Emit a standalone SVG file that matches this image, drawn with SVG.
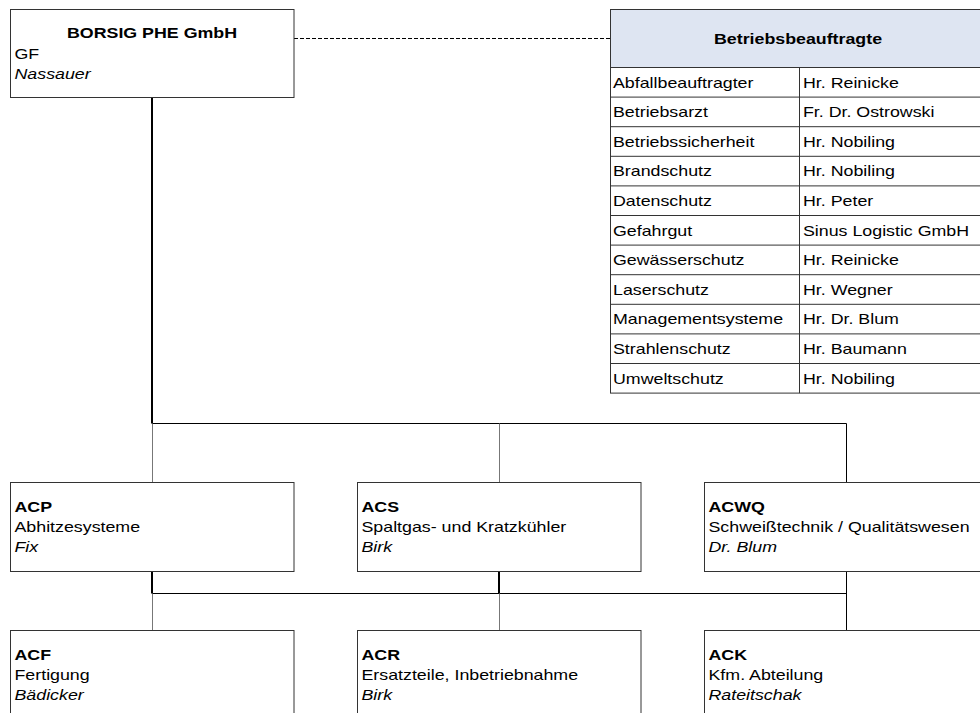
<svg xmlns="http://www.w3.org/2000/svg" width="980" height="713" viewBox="0 0 980 713">
<style>
text{font-family:"Liberation Sans",Arial,Helvetica,sans-serif;font-size:14.6px;fill:#000}
.b{font-weight:bold}
.i{font-style:italic}
.c{text-anchor:middle}
.box{fill:#fff;stroke:#333;stroke-width:1}
.hdr{fill:#dee5f2;stroke:#333;stroke-width:1}
.grid{fill:none;stroke:#333;stroke-width:1}
.ln{fill:none;stroke:#000;stroke-width:1}
.thk{fill:none;stroke:#000;stroke-width:2}
.gry{fill:none;stroke:#777;stroke-width:1}
.dash{fill:none;stroke:#000;stroke-width:1;stroke-dasharray:4 2}
</style>
<rect width="980" height="713" fill="#fff"/>
<g id="connectors">
<path class="dash" d="M294 38.5H610"/>
<path class="thk" d="M152 97.5V423.5"/>
<path class="ln" d="M152 423.5H846.5V482"/>
<path class="gry" d="M152.5 423.5V482M499.5 423.5V482"/>
<path class="thk" d="M152 571.5V593.5M499 571.5V593.5"/>
<path class="ln" d="M152 593.5H846.5M846.5 571.5V630"/>
<path class="gry" d="M152.5 593.5V630M499.5 593.5V630"/>
</g>
<g id="borsig">
<rect class="box" x="10.5" y="9.5" width="283.5" height="88"/>
<text class="b c" transform="matrix(1.22 0 0 1 152 38)">BORSIG PHE GmbH</text>
<text transform="matrix(1.22 0 0 1 14.5 59)">GF</text>
<text class="i" transform="matrix(1.22 0 0 1 14.5 79)">Nassauer</text>
</g>
<g id="betriebsbeauftragte">
<rect class="hdr" x="610.5" y="9.5" width="376" height="58"/>
<text class="b c" transform="matrix(1.22 0 0 1 798 44)">Betriebsbeauftragte</text>
<rect class="grid" x="610.5" y="67.5" width="376" height="325.6"/>
<path class="grid" d="M799.5 67.5V393.1M610.5 97.1H986.5M610.5 126.7H986.5M610.5 156.3H986.5M610.5 185.9H986.5M610.5 215.5H986.5M610.5 245.1H986.5M610.5 274.7H986.5M610.5 304.3H986.5M610.5 333.9H986.5M610.5 363.5H986.5"/>
<text transform="matrix(1.22 0 0 1 613 87.5)">Abfallbeauftragter</text>
<text transform="matrix(1.22 0 0 1 803 87.5)">Hr. Reinicke</text>
<text transform="matrix(1.22 0 0 1 613 117.1)">Betriebsarzt</text>
<text transform="matrix(1.22 0 0 1 803 117.1)">Fr. Dr. Ostrowski</text>
<text transform="matrix(1.22 0 0 1 613 146.7)">Betriebssicherheit</text>
<text transform="matrix(1.22 0 0 1 803 146.7)">Hr. Nobiling</text>
<text transform="matrix(1.22 0 0 1 613 176.3)">Brandschutz</text>
<text transform="matrix(1.22 0 0 1 803 176.3)">Hr. Nobiling</text>
<text transform="matrix(1.22 0 0 1 613 205.9)">Datenschutz</text>
<text transform="matrix(1.22 0 0 1 803 205.9)">Hr. Peter</text>
<text transform="matrix(1.22 0 0 1 613 235.5)">Gefahrgut</text>
<text transform="matrix(1.22 0 0 1 803 235.5)">Sinus Logistic GmbH</text>
<text transform="matrix(1.22 0 0 1 613 265.1)">Gewässerschutz</text>
<text transform="matrix(1.22 0 0 1 803 265.1)">Hr. Reinicke</text>
<text transform="matrix(1.22 0 0 1 613 294.7)">Laserschutz</text>
<text transform="matrix(1.22 0 0 1 803 294.7)">Hr. Wegner</text>
<text transform="matrix(1.22 0 0 1 613 324.3)">Managementsysteme</text>
<text transform="matrix(1.22 0 0 1 803 324.3)">Hr. Dr. Blum</text>
<text transform="matrix(1.22 0 0 1 613 353.9)">Strahlenschutz</text>
<text transform="matrix(1.22 0 0 1 803 353.9)">Hr. Baumann</text>
<text transform="matrix(1.22 0 0 1 613 383.5)">Umweltschutz</text>
<text transform="matrix(1.22 0 0 1 803 383.5)">Hr. Nobiling</text>
</g>
<g id="acp">
<rect class="box" x="10.5" y="482.5" width="283.5" height="89"/>
<text class="b" transform="matrix(1.22 0 0 1 14.5 511.5)">ACP</text>
<text transform="matrix(1.22 0 0 1 14.5 531.5)">Abhitzesysteme</text>
<text class="i" transform="matrix(1.22 0 0 1 14.5 551.5)">Fix</text>
</g>
<g id="acs">
<rect class="box" x="357.5" y="482.5" width="283.5" height="89"/>
<text class="b" transform="matrix(1.22 0 0 1 361.5 511.5)">ACS</text>
<text transform="matrix(1.22 0 0 1 361.5 531.5)">Spaltgas- und Kratzkühler</text>
<text class="i" transform="matrix(1.22 0 0 1 361.5 551.5)">Birk</text>
</g>
<g id="acwq">
<rect class="box" x="704.5" y="482.5" width="283.5" height="89"/>
<text class="b" transform="matrix(1.22 0 0 1 708.5 511.5)">ACWQ</text>
<text transform="matrix(1.22 0 0 1 708.5 531.5)">Schweißtechnik / Qualitätswesen</text>
<text class="i" transform="matrix(1.22 0 0 1 708.5 551.5)">Dr. Blum</text>
</g>
<g id="acf">
<rect class="box" x="10.5" y="630.5" width="283.5" height="89"/>
<text class="b" transform="matrix(1.22 0 0 1 14.5 659.5)">ACF</text>
<text transform="matrix(1.22 0 0 1 14.5 679.5)">Fertigung</text>
<text class="i" transform="matrix(1.22 0 0 1 14.5 699.5)">Bädicker</text>
</g>
<g id="acr">
<rect class="box" x="357.5" y="630.5" width="283.5" height="89"/>
<text class="b" transform="matrix(1.22 0 0 1 361.5 659.5)">ACR</text>
<text transform="matrix(1.22 0 0 1 361.5 679.5)">Ersatzteile, Inbetriebnahme</text>
<text class="i" transform="matrix(1.22 0 0 1 361.5 699.5)">Birk</text>
</g>
<g id="ack">
<rect class="box" x="704.5" y="630.5" width="283.5" height="89"/>
<text class="b" transform="matrix(1.22 0 0 1 708.5 659.5)">ACK</text>
<text transform="matrix(1.22 0 0 1 708.5 679.5)">Kfm. Abteilung</text>
<text class="i" transform="matrix(1.22 0 0 1 708.5 699.5)">Rateitschak</text>
</g>
</svg>
